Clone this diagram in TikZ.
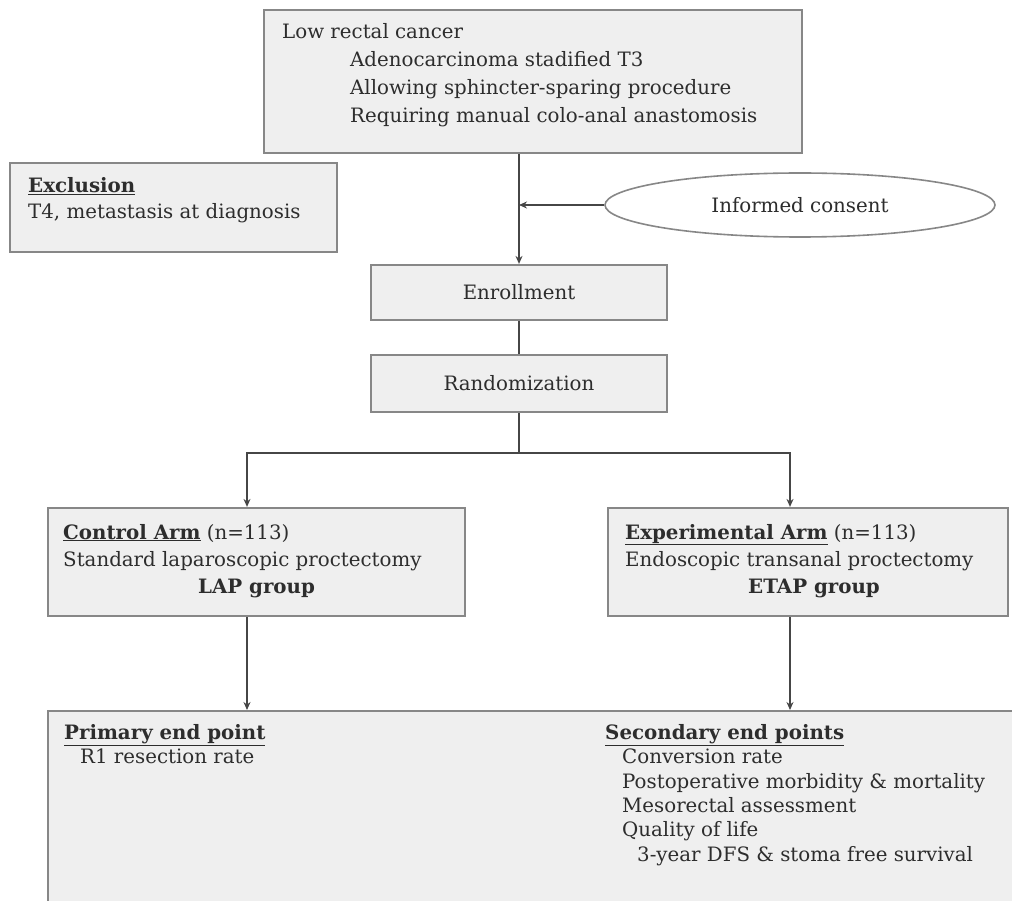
\documentclass[tikz,border=0pt]{standalone}
\usepackage{fontspec}
\setmainfont{DejaVu Serif}
\usepackage{tikz}
\usetikzlibrary{
  arrows.meta,
  positioning,
  shapes.geometric,
  calc
}
\definecolor{boxgray}{RGB}{239,239,239}
\definecolor{edgegray}{RGB}{135,135,135}
\definecolor{linegray}{RGB}{70,70,70}
\definecolor{inkgray}{RGB}{45,45,45}

\begin{document}
\begin{tikzpicture}[x=1pt, y=-1pt,
  font=\fontsize{19.8}{28}\selectfont, text=inkgray,
  box/.style={rectangle, draw=edgegray, line width=2.2pt, fill=boxgray, inner sep=0pt},
  conn/.style={draw=linegray, line width=1.8pt},
  arr/.style={conn, -{Stealth[length=8pt, width=7pt]}},
  txt/.style={anchor=base west, inner sep=0pt}
]
  \useasboundingbox (0,0) rectangle (1012,901);
  % Boxes
  \node[box, minimum width=538pt, minimum height=143pt] (incl) at (533,81.5) {};
  \node[box, minimum width=327pt, minimum height=89pt] (excl) at (173.5,207.5) {};
  \node[ellipse, draw=edgegray, line width=1.6pt, fill=white, minimum width=390pt,
        minimum height=64pt, inner sep=0pt] (consent) at (800,205) {Informed consent};
  \node[box, minimum width=296pt, minimum height=55pt] (enroll) at (519,292.5) {Enrollment};
  \node[box, minimum width=296pt, minimum height=57pt] (rand) at (519,383.5) {Randomization};
  \node[box, minimum width=417pt, minimum height=108pt] (ctrl) at (256.5,562) {};
  \node[box, minimum width=400pt, minimum height=108pt] (expt) at (808,562) {};
  \begin{scope}
    \clip (0,0) rectangle (1012,901);
    \node[box, anchor=north west, minimum width=1000pt, minimum height=230pt] (endpts) at (47,710) {};
  \end{scope}
  % Inclusion criteria
  \node[txt] (incl1) at (282,39) {Low rectal cancer};
  \node[txt] (incl2) at (350,67) {Adenocarcinoma stadified T3};
  \node[txt] (incl3) at (350,95) {Allowing sphincter-sparing procedure};
  \node[txt] (incl4) at (350,123) {Requiring manual colo-anal anastomosis};
  % Exclusion criteria
  \node[txt] (excl1) at (28,193) {\underline{\textbf{Exclusion}}};
  \node[txt] (excl2) at (28,219) {T4, metastasis at diagnosis};
  % Arms
  \node[txt] (ctrl1) at (63,539) {\underline{\textbf{Control Arm}} (n=113)};
  \node[txt] (ctrl2) at (63,566) {Standard laparoscopic proctectomy};
  \node[anchor=base, inner sep=0pt] (ctrl3) at (256.5,593) {\textbf{LAP group}};
  \node[txt] (expt1) at (625,539) {\underline{\textbf{Experimental Arm}} (n=113)};
  \node[txt] (expt2) at (625,566) {Endoscopic transanal proctectomy};
  \node[anchor=base, inner sep=0pt] (expt3) at (814,593) {\textbf{ETAP group}};
  % End points
  \node[txt] (prim1) at (64,739) {\underline{\textbf{Primary end point}}};
  \node[txt] (prim2) at (80,763) {R1 resection rate};
  \node[txt] (sec1) at (605,739) {\underline{\textbf{Secondary end points}}};
  \node[txt] (sec2) at (622,763) {Conversion rate};
  \node[txt] (sec3) at (622,788) {Postoperative morbidity \& mortality};
  \node[txt] (sec4) at (622,812) {Mesorectal assessment};
  \node[txt] (sec5) at (622,836) {Quality of life};
  \node[txt] (sec6) at (637,861) {3-year DFS \& stoma free survival};
  % Connectors
  \coordinate (lsplit) at (247,453);
  \coordinate (rsplit) at (790,453);
  \draw[arr] (incl.south -| enroll.north) -- (enroll.north);
  \draw[arr] (consent.west) -- (consent.west -| enroll.north);
  \draw[conn] (enroll.south) -- (rand.north);
  \draw[arr] (rand.south) |- (lsplit) -- (lsplit |- ctrl.north);
  \draw[arr] (rand.south) |- (rsplit) -- (rsplit |- expt.north);
  \draw[arr] (lsplit |- ctrl.south) -- (lsplit |- endpts.north);
  \draw[arr] (rsplit |- expt.south) -- (rsplit |- endpts.north);
\end{tikzpicture}
\end{document}
